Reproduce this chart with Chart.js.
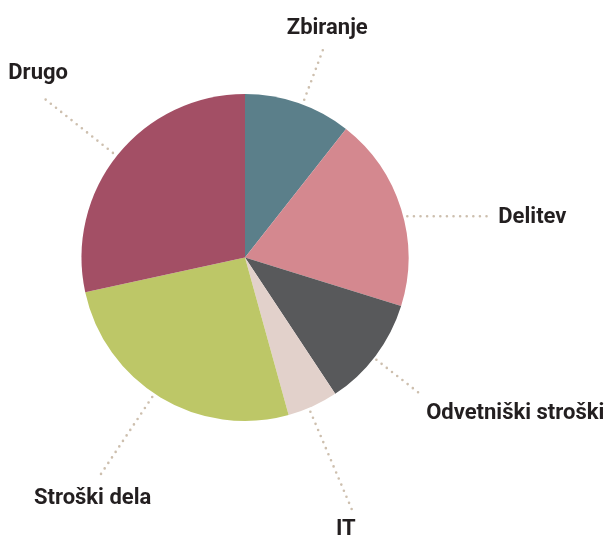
<!DOCTYPE html>
<html>
<head>
<meta charset="utf-8">
<script src="https://cdn.jsdelivr.net/npm/chart.js@4/dist/chart.umd.min.js"></script>
<style>
  html, body { margin: 0; padding: 0; background: #fff; }
  #wrap { width: 607px; height: 540px; position: relative; }
</style>
</head>
<body>
<div id="wrap"><canvas id="myChart" width="607" height="540"></canvas></div>
<script>
// podatki
var categories = ['Zbiranje', 'Delitev', 'Odvetniški stroški', 'IT', 'Stroški dela', 'Drugo'];
var shares = [10.6, 19.2, 10.9, 5.0, 25.9, 28.4];
var colors = ['#5b7f8a', '#d4888f', '#58595b', '#e2d1cb', '#bdc767', '#a34f65'];

// postavitev napisov: zasuk crte (stopinje), zacetni/koncni odmik od roba, zamik napisa
var labelLayout = [
	{ nudge: 1.5,  r0: 5, r1: 62, dx: 3,   dy: -18, align: 'center' },
	{ nudge: 3,    r0: 4, len: 82, dx: 9,  dy: 1,   align: 'left', flat: true },
	{ nudge: 1,    r0: 3, r1: 61, dx: 4,   dy: 18,  align: 'left' },
	{ nudge: 1.5,  r0: 4, r1: 110, dx: -6, dy: 20,  align: 'center' },
	{ nudge: 2.5,  r0: 4, r1: 99, dx: -7,  dy: 22,  align: 'center' },
	{ nudge: -0.5, r0: 5, r1: 94, dx: -5,  dy: -24, align: 'center' }
];

var leaderLabels = {
	id: 'leaderLabels',
	afterDraw: function(chart) {
		var ctx = chart.ctx;
		var meta = chart.getDatasetMeta(0);
		ctx.save();
		meta.data.forEach(function(arc, i) {
			var lay = labelLayout[i];
			var mid = (arc.startAngle + arc.endAngle) / 2 + lay.nudge * Math.PI / 180;
			var R = arc.outerRadius;
			var x0 = arc.x + Math.cos(mid) * (R + lay.r0);
			var y0 = arc.y + Math.sin(mid) * (R + lay.r0);
			var x1, y1;
			if (lay.flat) {
				x1 = x0 + lay.len;
				y1 = y0;
			} else {
				x1 = arc.x + Math.cos(mid) * (R + lay.r1);
				y1 = arc.y + Math.sin(mid) * (R + lay.r1);
			}
			ctx.beginPath();
			ctx.setLineDash([0, 6.6]);
			ctx.lineCap = 'round';
			ctx.lineWidth = 2.6;
			ctx.strokeStyle = '#cdbfae';
			ctx.moveTo(x0, y0);
			ctx.lineTo(x1, y1);
			ctx.stroke();

			ctx.setLineDash([]);
			ctx.fillStyle = '#231f20';
			ctx.font = 'bold 22px Roboto, sans-serif';
			ctx.textAlign = lay.align;
			ctx.textBaseline = 'middle';
			ctx.fillText(categories[i], x1 + lay.dx, y1 + lay.dy);
		});
		ctx.restore();
	}
};

var config = {
	type: 'pie',
	data: {
		labels: categories,
		datasets: [{
			data: shares,
			backgroundColor: colors,
			borderWidth: 0
		}]
	},
	options: {
		responsive: false,
		animation: false,
		layout: {
			padding: { left: 81, right: 198, top: 94, bottom: 119 }
		},
		plugins: {
			legend: { display: false },
			tooltip: { enabled: false }
		}
	},
	plugins: [leaderLabels]
};

var ctx = document.getElementById('myChart').getContext('2d');
window.myPie = new Chart(ctx, config);
</script>
</body>
</html>
